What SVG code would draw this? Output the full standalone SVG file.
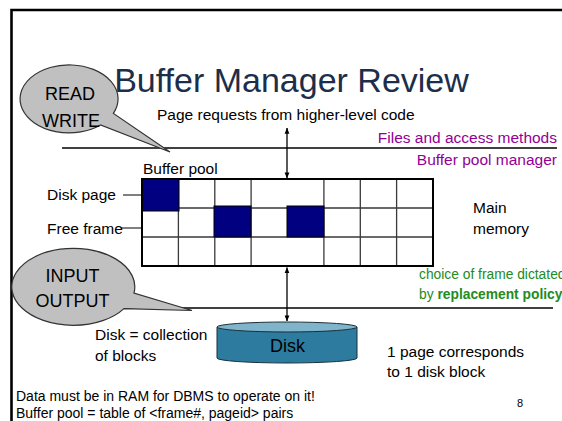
<svg xmlns="http://www.w3.org/2000/svg" width="562" height="421" viewBox="0 0 562 421">
  <defs>
    <marker id="ah" viewBox="0 0 8 8" refX="7.5" refY="4" markerWidth="6" markerHeight="6" orient="auto-start-reverse" markerUnits="userSpaceOnUse">
      <path d="M0,0.8 L8,4 L0,7.2 Z" fill="#000"/>
    </marker>
    <style>
      text { font-family: "Liberation Sans", Arial, sans-serif; fill: #000; }
      .body { font-size: 15.5px; }
      .small { font-size: 14px; }
      .purple { font-size: 15.5px; fill: #930093; }
      .green { font-size: 13.8px; fill: #228b22; }
      .callout { fill: #c0c0c0; stroke: #333; stroke-width: 1.2; }
      .callout-text { font-size: 18px; text-anchor: middle; }
      .cell { fill: #fff; stroke: none; }
      .inner { stroke: #3a3a3a; stroke-width: 1.3; fill: none; }
      .page { fill: #000080; stroke: #000; stroke-width: 1; }
      .rule { stroke: #000; stroke-width: 1.3; fill: none; }
      .arrow { stroke: #000; stroke-width: 1.3; fill: none; marker-start: url(#ah); marker-end: url(#ah); }
      .pointer { stroke: #000; stroke-width: 1; fill: none; }
    </style>
  </defs>

  <rect width="562" height="421" fill="#fff"/>
  <!-- slide frame -->
  <path d="M11.5 421 V10 H562" fill="none" stroke="#000" stroke-width="2.6"/>

  <!-- connectors: layer rules, request arrows, label pointers -->
  <g id="connectors">
    <line class="rule" x1="62" y1="148" x2="557" y2="148"/>
    <line class="rule" x1="100" y1="308" x2="553" y2="308"/>
    <line class="arrow" x1="287" y1="128" x2="287" y2="178"/>
    <line class="arrow" x1="287" y1="267.5" x2="287" y2="321"/>
    <line class="pointer" x1="123" y1="195" x2="157" y2="195"/>
    <line class="pointer" x1="121" y1="228" x2="157" y2="228" stroke="#666"/>
  </g>

  <g id="title">
    <text x="291.5" y="92" font-size="34" text-anchor="middle" style="fill:#1c2e4a">Buffer Manager Review</text>
  </g>

  <g id="callout-read-write">
    <path class="callout" d="M113.4 113.4 A49 34 0 1 0 100.5 125 L170 152 Z"/>
    <text class="callout-text" x="70" y="100">READ</text>
    <text class="callout-text" x="71" y="127">WRITE</text>
  </g>

  <g id="callout-input-output">
    <path class="callout" d="M134 293 A61.5 38.5 0 1 0 124 308.6 L192 310.5 Z"/>
    <text class="callout-text" x="72.5" y="282">INPUT</text>
    <text class="callout-text" x="72.5" y="307">OUTPUT</text>
  </g>

  <g id="page-requests">
    <text class="body" x="157" y="120">Page requests from higher-level code</text>
  </g>

  <g id="layer-labels">
    <text class="purple" x="557" y="143" text-anchor="end">Files and access methods</text>
    <text class="purple" x="557" y="165" text-anchor="end">Buffer pool manager</text>
  </g>

  <!-- buffer pool: 8 x 3 frames -->
  <g id="buffer-pool">
    <text class="body" x="143" y="174">Buffer pool</text>
    <rect class="cell" x="142" y="179" width="291" height="87"/>
    <path class="inner" d="M142 208 H433 M142 237 H433"/>
    <path class="inner" d="M178.4 179 V266 M214.8 179 V266 M251.1 179 V266 M323.9 179 V266 M360.3 179 V266 M396.6 179 V266" stroke="#555"/>
    <rect class="page" x="142" y="179" width="37" height="32"/>
    <rect class="page" x="214" y="206" width="37" height="31"/>
    <rect class="page" x="287" y="206" width="37" height="31"/>
    <rect x="142" y="179" width="291" height="87" fill="none" stroke="#000" stroke-width="2"/>
  </g>

  <g id="pool-labels">
    <text class="body" x="47" y="200">Disk page</text>
    <text class="body" x="47" y="234">Free frame</text>
    <text class="body" x="473" y="213">Main</text>
    <text class="body" x="473" y="234">memory</text>
  </g>

  <g id="replacement-note">
    <text class="green" x="419" y="279">choice of frame dictated</text>
    <text class="green" x="419" y="299">by <tspan font-weight="bold">replacement policy</tspan></text>
  </g>

  <g id="disk">
    <path d="M217 327 V358 A70 5 0 0 0 357 358 V327" fill="#2d7ca0" stroke="#1a2f3c" stroke-width="1"/>
    <ellipse cx="287" cy="327" rx="70" ry="5" fill="#7fb4ca" stroke="#1a2f3c" stroke-width="1"/>
    <text x="287.5" y="352" font-size="18" text-anchor="middle">Disk</text>
  </g>

  <g id="disk-labels">
    <text class="body" x="95" y="340">Disk = collection</text>
    <text class="body" x="95" y="361">of blocks</text>
    <text class="body" x="387" y="357">1 page corresponds</text>
    <text class="body" x="387" y="377">to 1 disk block</text>
  </g>

  <g id="notes">
    <text class="small" x="16" y="401">Data must be in RAM for DBMS to operate on it!</text>
    <text class="small" x="16" y="418">Buffer pool = table of &lt;frame#, pageid&gt; pairs</text>
    <text x="517" y="407" font-size="11">8</text>
  </g>
</svg>
